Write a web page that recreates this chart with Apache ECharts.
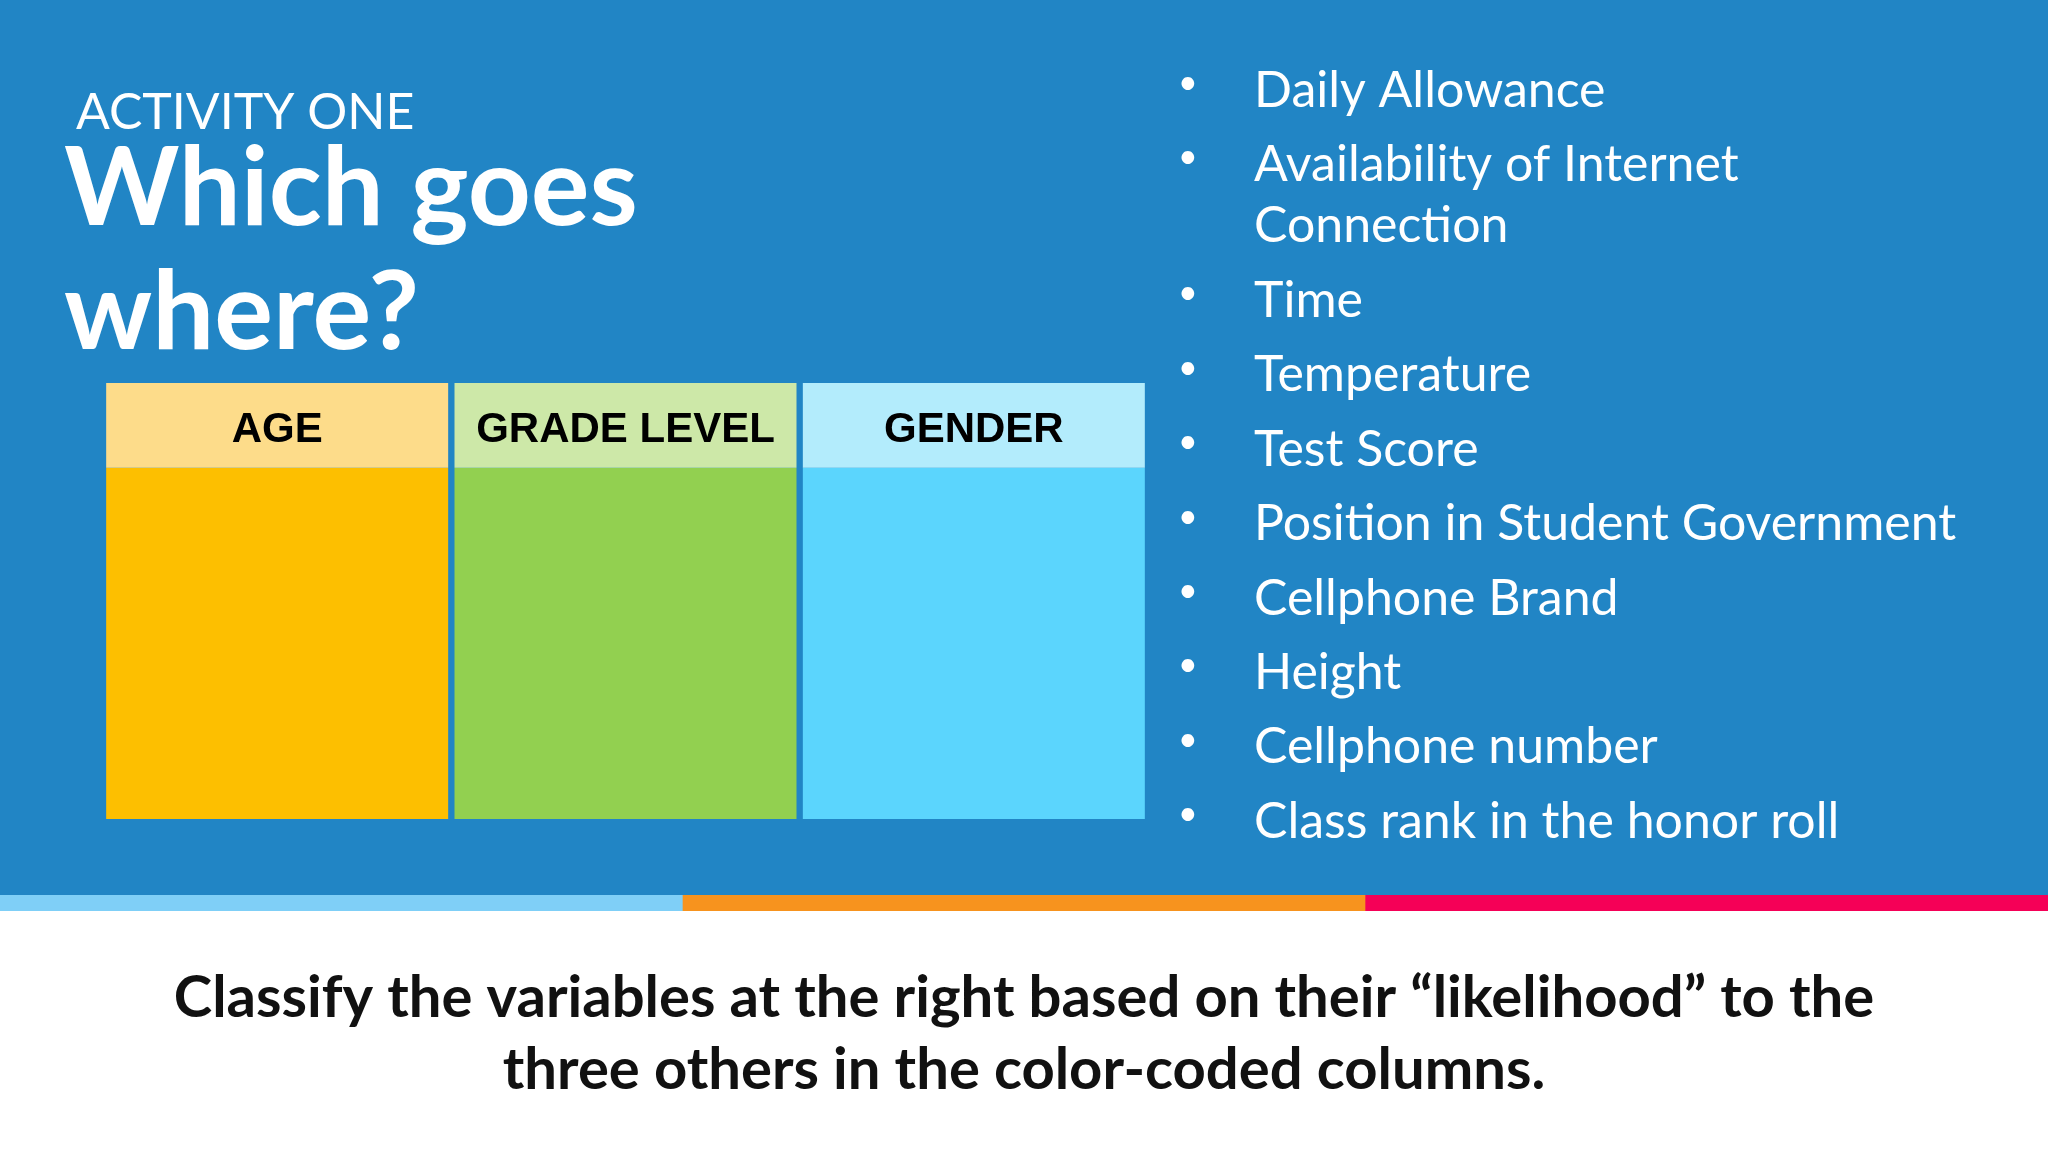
<!DOCTYPE html>
<html>
<head>
<meta charset="utf-8">
<script src="https://cdn.jsdelivr.net/npm/echarts@6/dist/echarts.min.js"></script>
<style>
  html, body {margin: 0; padding: 0; background: #fff;}
  #chart {width: 2048px; height: 1152px;}
</style>
</head>
<body>
<div id="chart"></div>
<script>
const categories = ['AGE', 'GRADE LEVEL', 'GENDER']
const bodyValues = [269, 269, 269]
const headerValues = [65, 65, 65]
const bodyColors = ['#FDBF00', '#92D050', '#5BD5FD']
const headerColors = ['#FDDC8A', '#CDE8A8', '#B3ECFC']
const variables = [
  'Daily Allowance',
  'Availability of Internet\nConnection',
  'Time',
  'Temperature',
  'Test Score',
  'Position in Student Government',
  'Cellphone Brand',
  'Height',
  'Cellphone number',
  'Class rank in the honor roll',
]
const stripeColors = ['#7FCFF7', '#F7931E', '#F50057']

const chart = echarts.init(document.getElementById('chart'))

// bullet list, one row per variable (wrapped one takes an extra half-row)
const listItems = []
let y = 90
variables.forEach((v) => {
  listItems.push({
    type: 'text', left: 1178, top: y - 24,
    style: {text: '•', fill: '#fff', font: '34px Lato'},
  })
  listItems.push({
    type: 'text', left: 1254, top: y - 30,
    style: {text: v, fill: '#fff', font: '50px Lato', lineHeight: 61},
  })
  y += v.includes('\n') ? 136 : 74.4
})

const stripes = stripeColors.map((c, i) => ({
  type: 'rect',
  shape: {x: i * 2048 / 3, y: 895, width: 2048 / 3 + 1, height: 16},
  style: {fill: c},
}))

chart.setOption({
  animation: false,
  grid: {left: 103, top: 383, width: 1045, height: 436},
  xAxis: {type: 'category', data: categories, show: false},
  yAxis: {type: 'value', min: 0, max: 334, show: false},
  graphic: [
    {type: 'rect', z: -10, shape: {x: 0, y: 0, width: 2048, height: 895}, style: {fill: '#2185C5'}},
    ...stripes,
    {type: 'text', left: 76, top: 88, style: {text: 'ACTIVITY ONE', fill: '#fff', font: '50px Lato'}},
    {type: 'text', left: 64, top: 128, style: {text: 'Which goes\nwhere?', fill: '#fff', font: 'bold 110px Lato', lineHeight: 124}},
    ...listItems,
    {
      type: 'text', x: 1024, y: 962,
      style: {
        text: 'Classify the variables at the right based on their \u201clikelihood\u201d to the\nthree others in the color-coded columns.',
        fill: '#111', font: 'bold 58px Lato', lineHeight: 72, align: 'center',
      },
    },
  ],
  series: [
    {
      type: 'bar', stack: 'col', barWidth: 342,
      data: bodyValues.map((v, i) => ({value: v, itemStyle: {color: bodyColors[i]}})),
    },
    {
      type: 'bar', stack: 'col', barWidth: 342,
      data: headerValues.map((v, i) => ({value: v, itemStyle: {color: headerColors[i]}})),
      label: {
        show: true, position: 'inside', offset: [0, 5],
        formatter: (p) => p.name,
        color: '#000', fontFamily: 'Liberation Sans', fontWeight: 'bold', fontSize: 42,
      },
    },
  ],
})
</script>
</body>
</html>
